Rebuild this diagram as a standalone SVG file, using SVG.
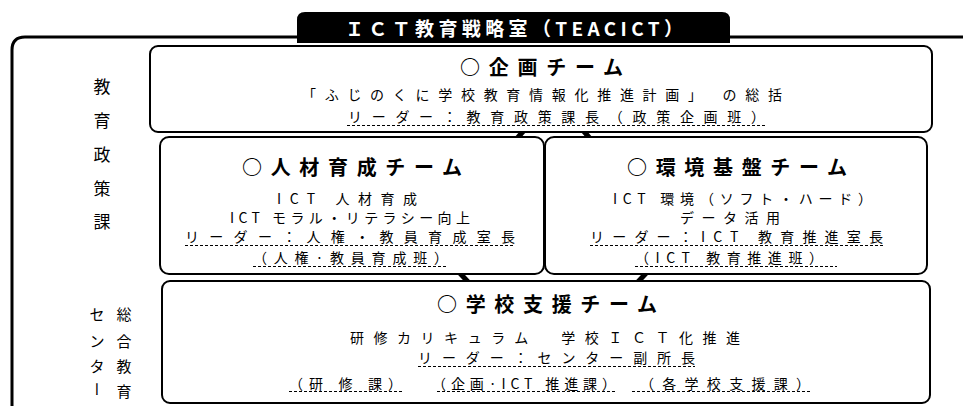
<svg xmlns="http://www.w3.org/2000/svg" width="963" height="406" viewBox="0 0 963 406">
<style>
.box{fill:#fff;stroke:#000;stroke-width:2}
.t{font-family:"Noto Sans CJK JP","Liberation Sans",sans-serif;fill:#000}
.h{font-size:20px;font-weight:700}
.b{font-size:14px}
.s{font-size:17px;text-anchor:middle}
.s2{font-size:15px;text-anchor:middle}
.ul{stroke:#000;stroke-width:1;stroke-dasharray:3 2;fill:none}
.con{stroke:#000;stroke-width:5;fill:none}
</style>
<rect width="963" height="406" fill="#fff"/>
<g id="frame">
<path d="M12 406 L12 50 Q12 37 25 37 L963 37" fill="none" stroke="#000" stroke-width="3"/>
<path d="M297 43 L297 20 Q297 12 305 12 L722 12 Q730 12 730 20 L730 43 Z" fill="#000"/>
<text class="t" x="345" y="36" font-size="19" font-weight="700" style="fill:#fff" textLength="338">ＩＣＴ教育戦略室（TEACICT）</text>
</g>
<g id="side-labels">
<text class="t s" x="102" y="93">教</text>
<text class="t s" x="102" y="127">育</text>
<text class="t s" x="102" y="161">政</text>
<text class="t s" x="102" y="195">策</text>
<text class="t s" x="102" y="228">課</text>
<text class="t s2" x="97" y="320">セ</text>
<text class="t s2" x="97" y="347">ン</text>
<text class="t s2" x="97" y="372">タ</text>
<text class="t" x="97" y="382" font-size="15" writing-mode="vertical-rl">ー</text>
<text class="t s2" x="124" y="320">総</text>
<text class="t s2" x="124" y="347">合</text>
<text class="t s2" x="124" y="372">教</text>
<text class="t s2" x="124" y="397">育</text>
</g>
<g id="connectors">
<line class="con" x1="526" y1="128" x2="514" y2="142"/>
<line class="con" x1="581" y1="128" x2="593" y2="142"/>
<line class="con" x1="456" y1="269" x2="470" y2="284"/>
<line class="con" x1="650" y1="269" x2="636" y2="284"/>
</g>
<g id="planning-team">
<rect class="box" x="150" y="46" width="782" height="86" rx="8"/>
<text class="t h" x="460" y="75" textLength="163">○企画チーム</text>
<text class="t b" x="302" y="100" textLength="480">「ふじのくに学校教育情報化推進計画」 の総括</text>
<text class="t b" x="348" y="122" textLength="417">リーダー：教育政策課長（政策企画班）</text>
<line class="ul" x1="347" y1="125.5" x2="767" y2="125.5"/>
</g>
<g id="hr-team">
<rect class="box" x="160" y="137" width="384" height="137" rx="9"/>
<text class="t h" x="242" y="175" textLength="220">○人材育成チーム</text>
<text class="t b" x="277" y="204" textLength="140">ICT 人材育成</text>
<text class="t b" x="230" y="223" textLength="240">ICT モラル・リテラシー向上</text>
<text class="t b" x="185" y="242" textLength="330">リーダー：人権・教員育成室長</text>
<line class="ul" x1="185" y1="245.5" x2="515" y2="245.5"/>
<text class="t b" x="253" y="263" textLength="195">（人権·教員育成班）</text>
<line class="ul" x1="253" y1="266.5" x2="448" y2="266.5"/>
</g>
<g id="infra-team">
<rect class="box" x="545" y="137" width="382" height="137" rx="9"/>
<text class="t h" x="627" y="175" textLength="220">○環境基盤チーム</text>
<text class="t b" x="613" y="204" textLength="259">ICT 環境（ソフト・ハード）</text>
<text class="t b" x="680" y="223" textLength="100">データ活用</text>
<text class="t b" x="590" y="242" textLength="293">リーダー：ICT 教育推進室長</text>
<line class="ul" x1="590" y1="245.5" x2="885" y2="245.5"/>
<text class="t b" x="635" y="263" textLength="188">（ICT 教育推進班）</text>
<line class="ul" x1="635" y1="266.5" x2="837" y2="266.5"/>
</g>
<g id="school-support-team">
<rect class="box" x="162" y="281" width="768" height="122" rx="8"/>
<text class="t h" x="437" y="312" textLength="220">○学校支援チーム</text>
<text class="t b" x="350" y="343" textLength="390">研修カリキュラム　学校ＩＣＴ化推進</text>
<text class="t b" x="418" y="363" textLength="277">リーダー：センター副所長</text>
<line class="ul" x1="418" y1="366.5" x2="695" y2="366.5"/>
<text class="t b" x="289" y="389" textLength="113">（研 修 課）</text>
<line class="ul" x1="289" y1="391.5" x2="402" y2="391.5"/>
<text class="t b" x="432" y="389" textLength="184">（企画·ICT 推進課）</text>
<line class="ul" x1="437" y1="391.5" x2="617" y2="391.5"/>
<text class="t b" x="640" y="389" textLength="170">（各学校支援課）</text>
<line class="ul" x1="632" y1="391.5" x2="812" y2="391.5"/>
</g>
</svg>
